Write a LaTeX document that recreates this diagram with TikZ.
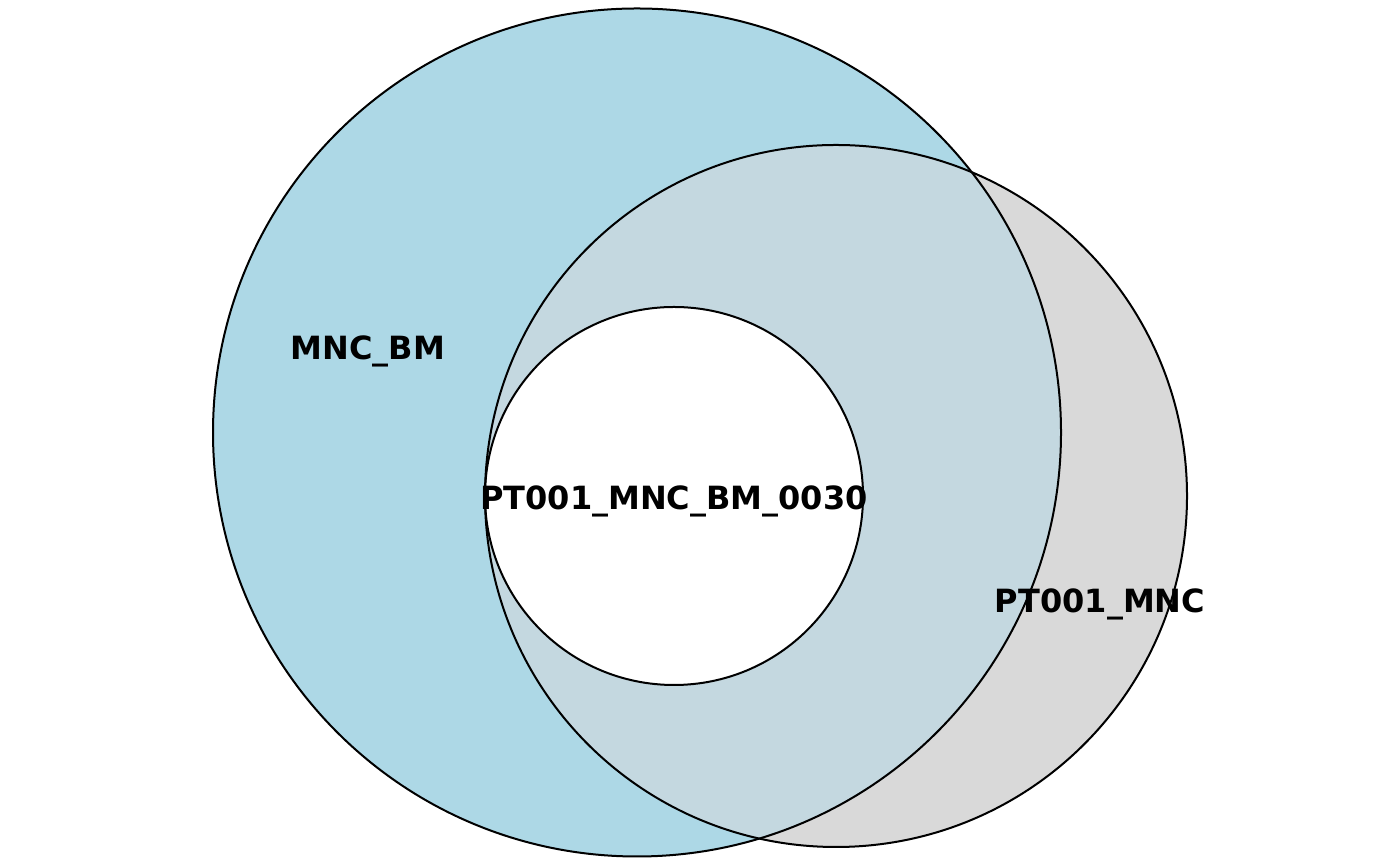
\documentclass[tikz,border=0pt]{standalone}
\usepackage{fontspec}
\usepackage{xcolor}
\usepackage{tikz}
\newfontfamily\setfont{DejaVu Sans}
\definecolor{setblue}{HTML}{ADD8E6}
\definecolor{setgrey}{HTML}{D9D9D9}
\definecolor{setmix}{HTML}{C4D8E0}

\begin{document}
\begin{tikzpicture}[x=0.5pt,y=0.5pt,set line/.style={draw=black,line width=1pt},set label/.style={font=\setfont\bfseries\fontsize{16}{19}\selectfont,inner sep=0pt}]

    \useasboundingbox (0,0) rectangle (1400,865);

    % filled regions
    \fill[setblue] (637,432.5) circle[radius=212pt];
    \fill[setgrey] (836,369) circle[radius=175.5pt];
    \begin{scope}
        \clip (637,432.5) circle[radius=212pt];
        \fill[setmix] (836,369) circle[radius=175.5pt];
    \end{scope}
    \fill[white] (674,369) circle[radius=94.5pt];

    % outlines
    \draw[set line] (637,432.5) circle[radius=212pt];
    \draw[set line] (836,369) circle[radius=175.5pt];
    \draw[set line] (674,369) circle[radius=94.5pt];

    \node[set label] (mnc-bm) at (368,514) {MNC\_BM};
    \node[set label] (pt001-mnc) at (1100,261) {PT001\_MNC};
    \node[set label] (pt001-mnc-bm) at (674,364) {PT001\_MNC\_BM\_0030};

\end{tikzpicture}
\end{document}
